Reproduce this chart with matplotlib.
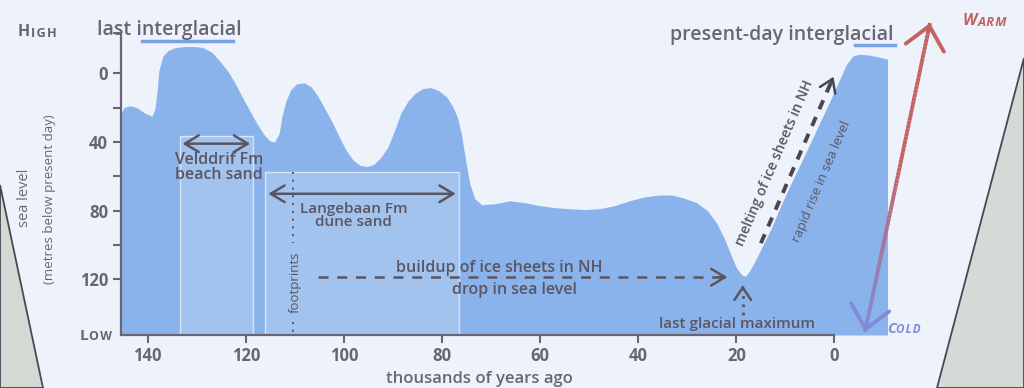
import numpy as np
import matplotlib.pyplot as plt
from matplotlib.collections import LineCollection
from matplotlib.patches import Polygon, FancyArrowPatch

# sea level curve (thousands of years ago, metres below present day)
age_kyr = [145.4, 144.8, 143.6, 142.2, 140.5, 139.1, 138.5, 138.1, 137.7, 136.9,
           135.8, 134.4, 132.4, 130.3, 128.7, 126.9, 125.3, 123.6, 122.0, 120.6,
           119.1, 117.7, 116.3, 115.1, 114.1, 113.2, 112.6, 111.8, 110.8, 109.6,
           108.1, 106.7, 105.3, 103.9, 102.4, 101.0, 99.6, 98.2, 96.7, 95.3,
           93.9, 92.5, 91.0, 89.6, 88.4, 86.9, 85.5, 83.9, 82.3, 80.7,
           79.0, 77.8, 76.8, 76.0, 75.2, 74.3, 73.3, 71.9, 69.2, 66.2,
           63.1, 60.1, 57.0, 54.0, 50.9, 47.9, 44.8, 41.8, 38.7, 35.6,
           33.2, 30.8, 28.1, 25.9, 24.0, 22.4, 21.0, 20.0, 18.9, 18.1,
           17.3, 16.1, 14.7, 13.0, 11.2, 9.2, 7.1, 5.1, 3.1, 1.0,
           -1.0, -2.4, -3.7, -5.1, -7.1, -9.2, -10.8]
sea_level_m = [23.3, 20.0, 18.9, 20.0, 23.3, 25.0, 20.6, 11.1, -1.7, -10.0,
               -13.3, -15.0, -15.6, -15.6, -15.0, -12.2, -7.2, -1.1, 6.7, 14.4,
               22.2, 29.4, 35.6, 39.4, 40.0, 35.0, 25.0, 16.1, 9.4, 6.1,
               5.6, 7.8, 13.3, 20.6, 28.3, 36.7, 44.6, 50.3, 53.7, 54.3,
               53.1, 49.1, 42.9, 32.8, 23.3, 16.1, 11.7, 8.9, 8.3, 10.0,
               13.9, 19.4, 26.1, 36.1, 50.3, 64.6, 73.1, 76.6, 76.0, 74.3,
               75.4, 77.1, 78.3, 78.9, 79.4, 78.9, 77.1, 74.3, 72.0, 70.9,
               70.9, 72.6, 75.4, 80.0, 87.4, 96.6, 106.5, 113.2, 117.5, 118.2,
               115.1, 108.9, 100.9, 91.1, 78.9, 66.3, 53.7, 41.7, 29.4, 16.7,
               3.9, -5.0, -10.0, -11.1, -10.6, -9.4, -8.3]

x_ticks = [140, 120, 100, 80, 60, 40, 20, 0]
y_ticks = [0, 40, 80, 120]
y_minor = [20, 60, 100]

# deposits and annotations (kyr, m)
velddrif_kyr = [133.5, 118.5]
velddrif_top = 36.5
langebaan_kyr = [116.0, 76.6]
langebaan_top = 57.7
footprints_kyr = 110.3
buildup_kyr = [105.3, 21.8]
buildup_m = 118.8
lgm_kyr = 18.7
lgm_m = [141.0, 123.5]
melting_kyr = [15.0, 0.2]
melting_m = [99.0, 2.0]

TXT = '#6b6573'
DARK = '#5a5563'
BLUE = '#8ab3eb'
LINE_BLUE = '#78a3e4'
RED = np.array([0xc4, 0x62, 0x5e]) / 255
COLD = np.array([0x80, 0x8b, 0xdb]) / 255
BG = '#eef3fb'
W, H = 1024, 388
Y_BOTTOM, Y_TOP = 152.5, -23.5

plt.rcParams['font.family'] = ['Open Sans', 'DejaVu Sans']


def px(x, y):
    return (x / W, 1 - y / H)


fig = plt.figure(figsize=(10.24, 3.88), dpi=100, facecolor=BG)

# the sign frame seen at the edges of the photo
fig.add_artist(Polygon([px(1024, 58), px(937, 388), px(1024, 388)], closed=True,
                       transform=fig.transFigure, facecolor='#d6dad7', edgecolor='#4a4755', lw=1.3))
fig.add_artist(Polygon([px(0, 185), px(43, 388), px(0, 388)], closed=True,
                       transform=fig.transFigure, facecolor='#d4d9d4', edgecolor='#4a4755', lw=1.3))

ax = fig.add_axes([0.1178, 0.1366, 0.757, 0.7784])
ax.set_facecolor('none')
ax.set_xlim(145.5, -12.5)
ax.set_ylim(Y_BOTTOM, Y_TOP)

ax.fill_between(age_kyr, sea_level_m, Y_BOTTOM, color=BLUE, lw=0, zorder=1)

# lighter boxes for the two formations
for span, top in [(velddrif_kyr, velddrif_top), (langebaan_kyr, langebaan_top)]:
    ax.fill_between(span, top, Y_BOTTOM - 0.8, color='white', alpha=0.22, lw=0, zorder=2)
    ax.plot([span[0], span[0], span[1], span[1]], [Y_BOTTOM - 0.8, top, top, Y_BOTTOM - 0.8],
            color='white', alpha=0.6, lw=1, zorder=2)

arrow2 = dict(arrowstyle='<->,head_length=0.5,head_width=0.3', color=DARK, lw=1.8,
              mutation_scale=20, shrinkA=0, shrinkB=0)
ax.annotate('', xy=(velddrif_kyr[1] + 0.6, velddrif_top + 4.5),
            xytext=(velddrif_kyr[0] - 0.6, velddrif_top + 4.5), arrowprops=arrow2, zorder=4)
ax.text(np.mean(velddrif_kyr) - 0.5, velddrif_top + 18.5, 'Velddrif Fm\nbeach sand', ha='center',
        va='center', fontsize=11.5, color=DARK, fontweight='semibold', linespacing=0.92, zorder=4)
ax.annotate('', xy=(langebaan_kyr[1] + 0.6, langebaan_top + 12.5),
            xytext=(langebaan_kyr[0] - 0.6, langebaan_top + 12.5), arrowprops=arrow2, zorder=4)
ax.text(98, langebaan_top + 25, 'Langebaan Fm\ndune sand', ha='center', va='center',
        fontsize=11, color=DARK, fontweight='semibold', linespacing=0.92, zorder=4)

# footprints
ax.plot([footprints_kyr, footprints_kyr], [langebaan_top, 99], color=DARK, lw=1.4, ls=(0, (1, 3)), zorder=3)
ax.plot([footprints_kyr, footprints_kyr], [145, Y_BOTTOM], color=DARK, lw=1.4, ls=(0, (1, 3)), zorder=3)
ax.text(footprints_kyr - 0.3, 122, 'footprints', rotation=90, ha='center', va='center',
        fontsize=9.5, color=DARK, zorder=4)

# buildup of ice sheets
ax.plot(buildup_kyr, [buildup_m, buildup_m], color=DARK, lw=1.8, ls=(0, (4, 3.5)), zorder=3)
ax.annotate('', xy=(buildup_kyr[1], buildup_m), xytext=(buildup_kyr[1] + 2, buildup_m),
            arrowprops=dict(arrowstyle='->,head_length=0.5,head_width=0.3', color=DARK, lw=1.8,
                            mutation_scale=20, shrinkA=0, shrinkB=0), zorder=4)
ax.text(68.4, buildup_m - 5.5, 'buildup of ice sheets in NH', ha='center', va='center',
        fontsize=11.5, color=DARK, fontweight='semibold', zorder=4)
ax.text(65.2, buildup_m + 7.5, 'drop in sea level', ha='center', va='center',
        fontsize=11.5, color=DARK, fontweight='semibold', zorder=4)

# last glacial maximum
ax.plot([lgm_kyr, lgm_kyr], lgm_m, color=DARK, lw=2, ls=(0, (1, 2)), zorder=3)
ax.annotate('', xy=(lgm_kyr, lgm_m[1]), xytext=(lgm_kyr, lgm_m[1] + 2),
            arrowprops=dict(arrowstyle='->,head_length=0.45,head_width=0.3', color=DARK, lw=1.8,
                            mutation_scale=20, shrinkA=0, shrinkB=0), zorder=4)
ax.text(19.8, 146.3, 'last glacial maximum', ha='center', va='center',
        fontsize=11, color=DARK, fontweight='semibold', zorder=4)

# melting of ice sheets
ax.plot(melting_kyr, melting_m, color='#4a4552', lw=2.8, ls=(0, (2.5, 2.2)), zorder=3)
dx = melting_kyr[1] - melting_kyr[0]
dy = melting_m[1] - melting_m[0]
ax.annotate('', xy=(melting_kyr[1], melting_m[1]),
            xytext=(melting_kyr[1] - 0.05 * dx, melting_m[1] - 0.05 * dy),
            arrowprops=dict(arrowstyle='->,head_length=0.45,head_width=0.3', color='#4a4552', lw=1.8,
                            mutation_scale=20, shrinkA=0, shrinkB=0), zorder=4)
ax.text(12.3, 52, 'melting of ice sheets in NH', rotation=67, ha='center', va='center',
        rotation_mode='anchor', fontsize=10, color=DARK, fontweight='semibold', zorder=4)
ax.text(2.6, 63, 'rapid rise in sea level', rotation=67, ha='center', va='center',
        rotation_mode='anchor', fontsize=9.5, color=DARK, zorder=4)

# axes
for side in ['top', 'right']:
    ax.spines[side].set_visible(False)
for side in ['left', 'bottom']:
    ax.spines[side].set_color(TXT)
    ax.spines[side].set_linewidth(1.6)
ax.spines['bottom'].set_bounds(145.5, 0)
ax.set_xticks(x_ticks)
ax.set_xticklabels([str(v) for v in x_ticks])
ax.set_yticks([Y_TOP] + y_ticks)
ax.set_yticklabels([''] + [str(v) for v in y_ticks])
ax.set_yticks(y_minor, minor=True)
ax.tick_params(axis='both', which='both', length=6, width=1.5, color=TXT,
               labelcolor=TXT, labelsize=12, pad=3)
for lab in ax.get_xticklabels() + ax.get_yticklabels():
    lab.set_fontweight('bold')

ax.set_xlabel('thousands of years ago', fontsize=12, color=TXT, fontweight='semibold')
ax.xaxis.set_label_coords(0.463, -0.12)

fig.text(*px(24, 198), 'sea level', rotation=90, ha='center', va='center', fontsize=10.5, color=TXT)
fig.text(*px(50, 199), '(metres below present day)', rotation=90, ha='center', va='center',
         fontsize=9.5, color=TXT)


def small_caps(x, y, word, size, color, style='normal'):
    first = fig.text(*px(x, y), word[0], fontsize=size, color=color, fontweight='bold',
                     style=style, ha='left', va='baseline')
    ax.annotate(' '.join(word[1:].upper()).replace(' ', '\u200a'), xy=(1.05, 0), xycoords=first,
                ha='left', va='bottom', fontsize=size * 0.8, color=color, fontweight='bold',
                style=style, annotation_clip=False)


small_caps(18, 36, 'High', 11.5, TXT)
small_caps(80, 340, 'Low', 11, TXT)
small_caps(963, 25, 'Warm', 11.5, RED, 'italic')
small_caps(887, 333, 'Cold', 10.5, COLD, 'italic')

# period labels with their underlines
fig.text(*px(97, 35), 'last interglacial', fontsize=14, color=TXT, ha='left', va='baseline',
         fontweight='semibold')
fig.add_artist(plt.Line2D([142 / W, 233 / W], [1 - 41 / H, 1 - 41 / H], color=LINE_BLUE, lw=2.5))
fig.text(*px(893, 40), 'present-day interglacial', fontsize=14, color=TXT, ha='right',
         va='baseline', fontweight='semibold')
fig.add_artist(plt.Line2D([855 / W, 895 / W], [1 - 45 / H, 1 - 45 / H], color=LINE_BLUE, lw=2.5))

# warm / cold arrow with colour gradient
p0 = np.array(px(865, 332))
p1 = np.array(px(930, 23))
t = np.linspace(0, 1, 80)
pts = p0 + (p1 - p0) * t[:, None]
segs = np.stack([pts[:-1], pts[1:]], axis=1)
w = np.clip(t[:-1] / 0.55, 0, 1)[:, None]
cols = COLD * (1 - w) + RED * w
fig.add_artist(LineCollection(segs, colors=cols, linewidths=2.8, transform=fig.transFigure))
for tip, tail, c in [(p1, p1 - (p1 - p0) * 0.03, RED), (p0, p0 + (p1 - p0) * 0.03, COLD)]:
    fig.add_artist(FancyArrowPatch(tuple(tail), tuple(tip), transform=fig.transFigure,
                                   arrowstyle='->,head_length=0.8,head_width=0.7', color=c,
                                   lw=2.8, mutation_scale=20, shrinkA=0, shrinkB=0))

fig.savefig('out.png', dpi=100, facecolor=BG)
